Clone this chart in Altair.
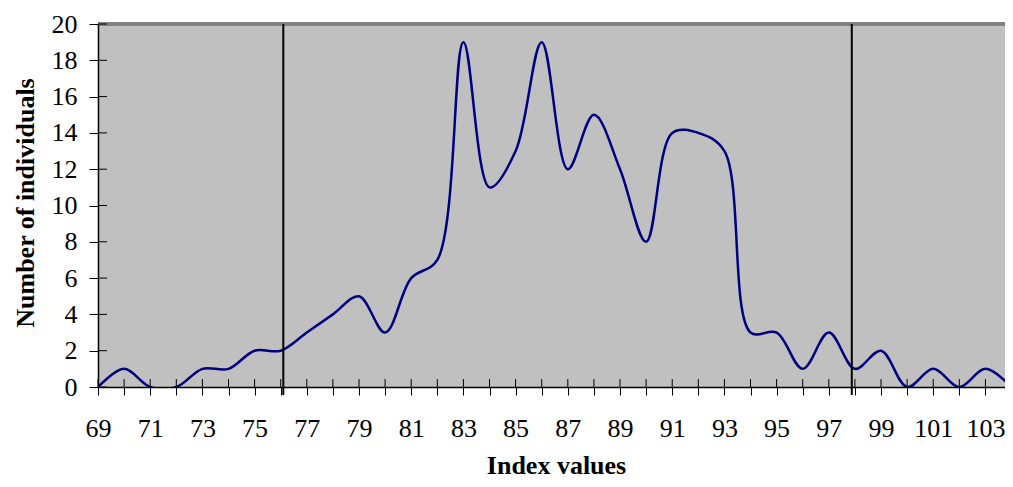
import altair as alt
import pandas as pd

# ---- data ----
index_values = list(range(69, 105))
counts = [0, 1, 0, 0, 1, 1, 2, 2, 3, 4, 5, 3, 6, 7, 19, 11, 13, 19, 12, 15,
          12, 8, 14, 14, 13, 3, 3, 1, 3, 1, 2, 0, 1, 0, 1, 0]
cutoffs = [76.1, 97.88]
x_ticks = list(range(69, 104))
y_ticks = list(range(0, 21, 2))

W, H = 907, 363
FONT = "Liberation Serif"

df = pd.DataFrame({"x": index_values, "y": counts})
cut_df = pd.DataFrame({"x": cutoffs})
xt_df = pd.DataFrame({"x": x_ticks})
yt_df = pd.DataFrame({"y": y_ticks})

x_scale = alt.Scale(domain=[69, 103.75], nice=False, zero=False)
y_scale = alt.Scale(domain=[0, 20], nice=False)

x_axis = alt.Axis(
    values=x_ticks,
    labelExpr="datum.value % 2 == 1 ? datum.label : ''",
    title="Index values",
    titleFont=FONT, titleFontSize=26, titleFontWeight="bold", titleColor="black",
    titleX=458, titleY=86, titleBaseline="alphabetic", titleAlign="center",
    labelFont=FONT, labelFontSize=26, labelColor="black", labelPadding=20,
    labelFlush=False, labelOverlap=False,
    tickSize=8, tickColor="black", tickWidth=1,
    domainColor="black", domainWidth=1.5, grid=False, zindex=1,
)
y_axis = alt.Axis(
    values=y_ticks,
    title="Number of individuals",
    titleFont=FONT, titleFontSize=26, titleFontWeight="bold", titleColor="black",
    titleX=-65, titleY=H / 2 - 3, titleAngle=270, titleBaseline="alphabetic",
    titleAlign="center",
    labelFont=FONT, labelFontSize=26, labelColor="black", labelPadding=12,
    labelOverlap=False, labelFlush=False,
    tickSize=9, tickColor="black", tickWidth=1,
    domainColor="black", domainWidth=1.5, grid=False, zindex=1,
)

base = alt.Chart(df)

line = base.mark_line(
    interpolate="catmull-rom", color="#000080", strokeWidth=2.5, clip=True
).encode(
    x=alt.X("x:Q", scale=x_scale, axis=x_axis, title="Index values"),
    y=alt.Y("y:Q", scale=y_scale, axis=y_axis, title="Number of individuals"),
)

top_border = alt.Chart(yt_df).mark_rule(color="#808080", strokeWidth=2.5).encode(
    x=alt.value(0), x2=alt.value(W), y=alt.value(0)
)

cut_rules = alt.Chart(cut_df).mark_rule(color="black", strokeWidth=2).encode(
    x=alt.X("x:Q", scale=x_scale, axis=x_axis, title="Index values"),
    y=alt.value(0), y2=alt.value(H + 8)
)

x_inner = alt.Chart(xt_df).mark_rule(color="black", strokeWidth=1).encode(
    x=alt.X("x:Q", scale=x_scale, axis=x_axis, title="Index values"),
    y=alt.value(H - 8), y2=alt.value(H)
)

y_inner = alt.Chart(yt_df).mark_rule(color="black", strokeWidth=1).encode(
    y=alt.Y("y:Q", scale=y_scale, axis=y_axis, title="Number of individuals"),
    x=alt.value(0), x2=alt.value(9)
)

chart = alt.layer(line, top_border, x_inner, y_inner, cut_rules).properties(
    width=W, height=H,
    autosize="none",
    padding={"left": 90, "top": 16, "right": 0, "bottom": 92},
    background="white",
).configure_view(fill="#C0C0C0", stroke=None)

chart.save("out.html", embed_options={"renderer": "svg", "actions": False})
